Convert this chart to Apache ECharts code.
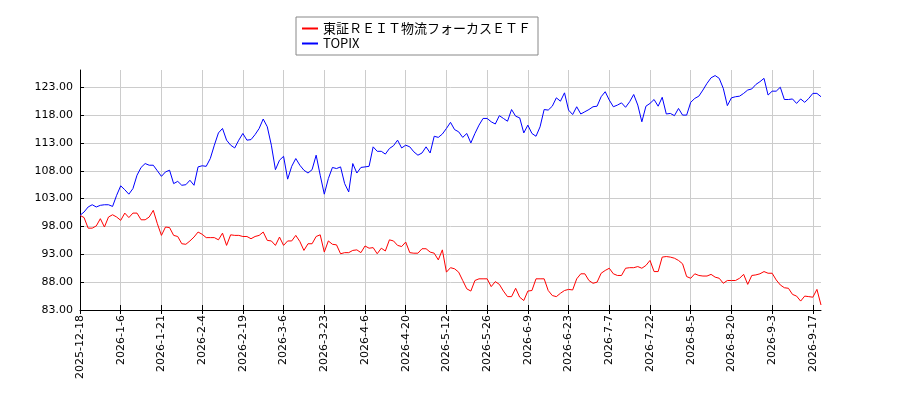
<!DOCTYPE html>
<html>
<head>
<meta charset="utf-8">
<script src="https://cdn.jsdelivr.net/npm/echarts@6/dist/echarts.min.js"></script>
<style>
  html, body { margin: 0; padding: 0; background: #fff; }
  #chart { width: 900px; height: 400px; }
</style>
</head>
<body>
<div id="chart"></div>
<script>
// 日付（営業日）
const dates = [
  "2025-12-18", "2025-12-19", "2025-12-22", "2025-12-23", "2025-12-24", "2025-12-25", "2025-12-26", "2025-12-29", "2025-12-30", "2026-1-5",
  "2026-1-6", "2026-1-7", "2026-1-8", "2026-1-9", "2026-1-13", "2026-1-14", "2026-1-15", "2026-1-16", "2026-1-19", "2026-1-20",
  "2026-1-21", "2026-1-22", "2026-1-23", "2026-1-26", "2026-1-27", "2026-1-28", "2026-1-29", "2026-1-30", "2026-2-2", "2026-2-3",
  "2026-2-4", "2026-2-5", "2026-2-6", "2026-2-9", "2026-2-10", "2026-2-12", "2026-2-13", "2026-2-16", "2026-2-17", "2026-2-18",
  "2026-2-19", "2026-2-20", "2026-2-24", "2026-2-25", "2026-2-26", "2026-2-27", "2026-3-2", "2026-3-3", "2026-3-4", "2026-3-5",
  "2026-3-6", "2026-3-9", "2026-3-10", "2026-3-11", "2026-3-12", "2026-3-13", "2026-3-16", "2026-3-17", "2026-3-18", "2026-3-19",
  "2026-3-23", "2026-3-24", "2026-3-25", "2026-3-26", "2026-3-27", "2026-3-30", "2026-3-31", "2026-4-1", "2026-4-2", "2026-4-3",
  "2026-4-6", "2026-4-7", "2026-4-8", "2026-4-9", "2026-4-10", "2026-4-13", "2026-4-14", "2026-4-15", "2026-4-16", "2026-4-17",
  "2026-4-20", "2026-4-21", "2026-4-22", "2026-4-23", "2026-4-24", "2026-4-27", "2026-4-28", "2026-5-7", "2026-5-8", "2026-5-11",
  "2026-5-12", "2026-5-13", "2026-5-14", "2026-5-15", "2026-5-18", "2026-5-19", "2026-5-20", "2026-5-21", "2026-5-22", "2026-5-25",
  "2026-5-26", "2026-5-27", "2026-5-28", "2026-5-29", "2026-6-1", "2026-6-2", "2026-6-3", "2026-6-4", "2026-6-5", "2026-6-8",
  "2026-6-9", "2026-6-10", "2026-6-11", "2026-6-12", "2026-6-15", "2026-6-16", "2026-6-17", "2026-6-18", "2026-6-19", "2026-6-22",
  "2026-6-23", "2026-6-24", "2026-6-25", "2026-6-26", "2026-6-29", "2026-6-30", "2026-7-1", "2026-7-2", "2026-7-3", "2026-7-6",
  "2026-7-7", "2026-7-8", "2026-7-9", "2026-7-10", "2026-7-13", "2026-7-14", "2026-7-15", "2026-7-16", "2026-7-17", "2026-7-21",
  "2026-7-22", "2026-7-23", "2026-7-24", "2026-7-27", "2026-7-28", "2026-7-29", "2026-7-30", "2026-7-31", "2026-8-3", "2026-8-4",
  "2026-8-5", "2026-8-6", "2026-8-7", "2026-8-10", "2026-8-12", "2026-8-13", "2026-8-14", "2026-8-17", "2026-8-18", "2026-8-19",
  "2026-8-20", "2026-8-21", "2026-8-24", "2026-8-25", "2026-8-26", "2026-8-27", "2026-8-28", "2026-8-31", "2026-9-1", "2026-9-2",
  "2026-9-3", "2026-9-4", "2026-9-7", "2026-9-8", "2026-9-9", "2026-9-10", "2026-9-11", "2026-9-14", "2026-9-15", "2026-9-16",
  "2026-9-17", "2026-9-18", "2026-9-24"
];

// 東証ＲＥＩＴ物流フォーカスＥＴＦ（100基準）
const reitValues = [
  100.0, 99.6, 97.7, 97.7, 98.1, 99.4, 97.9, 99.7, 100.1, 99.7,
  99.1, 100.4, 99.6, 100.4, 100.4, 99.2, 99.2, 99.7, 100.9, 98.5,
  96.4, 97.9, 97.8, 96.4, 96.2, 94.9, 94.8, 95.4, 96.1, 97.0,
  96.6, 96.0, 96.0, 96.0, 95.6, 96.8, 94.6, 96.5, 96.4, 96.4,
  96.2, 96.2, 95.8, 96.2, 96.4, 97.0, 95.5, 95.4, 94.6, 96.1,
  94.6, 95.4, 95.4, 96.4, 95.3, 93.7, 94.9, 94.9, 96.2, 96.5,
  93.4, 95.4, 94.8, 94.7, 93.1, 93.3, 93.3, 93.7, 93.8, 93.3,
  94.5, 94.1, 94.2, 93.1, 94.1, 93.6, 95.6, 95.4, 94.6, 94.4,
  95.2, 93.3, 93.2, 93.2, 94.0, 94.0, 93.4, 93.2, 92.0, 93.8,
  89.8, 90.6, 90.4, 89.8, 88.3, 86.8, 86.4, 88.3, 88.6, 88.6,
  88.6, 87.2, 88.1, 87.6, 86.4, 85.4, 85.4, 86.9, 85.3, 84.7,
  86.4, 86.5, 88.6, 88.6, 88.6, 86.5, 85.6, 85.4, 86.0, 86.5,
  86.7, 86.6, 88.6, 89.5, 89.5, 88.3, 87.8, 88.0, 89.6, 90.1,
  90.5, 89.5, 89.2, 89.2, 90.5, 90.6, 90.6, 90.8, 90.5, 91.0,
  91.9, 89.9, 89.9, 92.5, 92.6, 92.5, 92.3, 91.9, 91.3, 89.0,
  88.7, 89.5, 89.2, 89.1, 89.1, 89.4, 88.9, 88.7, 87.8, 88.3,
  88.3, 88.3, 88.7, 89.4, 87.6, 89.2, 89.3, 89.5, 89.9, 89.6,
  89.6, 88.4, 87.5, 87.0, 86.9, 85.8, 85.5, 84.6, 85.5, 85.4,
  85.3, 86.7, 83.9
];

// TOPIX（100基準）
const topixValues = [
  100.0, 100.6, 101.5, 101.9, 101.5, 101.8, 101.9, 101.9, 101.6, 103.6,
  105.3, 104.6, 103.8, 104.8, 107.2, 108.6, 109.3, 109.0, 109.0, 108.0,
  107.0, 107.8, 108.1, 105.7, 106.1, 105.4, 105.5, 106.3, 105.4, 108.7,
  108.9, 108.8, 110.2, 112.6, 114.8, 115.6, 113.5, 112.6, 112.1, 113.5,
  114.7, 113.5, 113.6, 114.5, 115.6, 117.3, 115.9, 112.6, 108.2, 109.9,
  110.6, 106.5, 108.8, 110.2, 109.0, 108.1, 107.6, 108.2, 110.8, 107.2,
  103.8, 106.6, 108.6, 108.4, 108.7, 105.7, 104.2, 109.3, 107.6, 108.6,
  108.7, 108.8, 112.3, 111.5, 111.5, 111.0, 112.0, 112.5, 113.5, 112.1,
  112.6, 112.3, 111.4, 110.8, 111.2, 112.3, 111.2, 114.2, 114.0, 114.6,
  115.6, 116.7, 115.4, 115.0, 114.0, 114.7, 113.0, 114.7, 116.2, 117.4,
  117.4, 116.8, 116.4, 117.9, 117.4, 116.9, 119.0, 117.8, 117.5, 114.8,
  116.2, 114.7, 114.2, 115.9, 119.0, 118.9, 119.6, 121.1, 120.5, 122.0,
  118.9, 118.1, 119.5, 118.2, 118.6, 119.0, 119.5, 119.6, 121.3, 122.2,
  120.7, 119.5, 119.8, 120.2, 119.4, 120.4, 121.7, 119.8, 116.8, 119.6,
  120.1, 120.8, 119.6, 121.2, 118.2, 118.3, 117.9, 119.2, 118.0, 118.0,
  120.3, 121.0, 121.4, 122.5, 123.7, 124.7, 125.1, 124.6, 122.8, 119.7,
  121.1, 121.3, 121.4, 121.9, 122.5, 122.7, 123.5, 124.0, 124.6, 121.6,
  122.3, 122.3, 123.0, 120.8, 120.8, 120.9, 120.1, 120.9, 120.3, 121.0,
  121.9, 121.9, 121.3
];

const seriesNames = ["東証ＲＥＩＴ物流フォーカスＥＴＦ", "TOPIX"];

const chart = echarts.init(document.getElementById("chart"), null, { renderer: "canvas" });

const labelFont = "DejaVu Sans";

const option = {
  animation: false,
  backgroundColor: "#fff",
  legend: {
    orient: "vertical",
    left: 296,
    top: 17,
    padding: [5, 7, 5, 6],
    itemGap: 2,
    itemWidth: 16,
    itemHeight: 2,
    icon: "rect",
    borderColor: "#888",
    borderWidth: 1,
    backgroundColor: "#fff",
    textStyle: { fontFamily: "Noto Sans CJK JP", fontSize: 13, color: "#000" },
    data: seriesNames,
  },
  grid: { left: 80, right: 79, top: 70, bottom: 90 },
  xAxis: [
    {
      type: "category",
      data: dates,
      boundaryGap: false,
      axisLine: { lineStyle: { color: "#000", width: 1 } },
      axisTick: { interval: 9, length: 4, lineStyle: { color: "#000" } },
      axisLabel: {
        interval: 9,
        rotate: 90,
        margin: 5,
        fontFamily: labelFont,
        fontSize: 11,
        color: "#000",
      },
      splitLine: { show: true, interval: 9, lineStyle: { color: "#ccc", width: 1 } },
    },
    {
      type: "category",
      data: dates,
      boundaryGap: false,
      position: "bottom",
      axisLine: { show: false },
      axisTick: { interval: 9, inside: true, length: 5, lineStyle: { color: "#000" } },
      axisLabel: { show: false },
      splitLine: { show: false },
    },
  ],
  yAxis: {
    type: "value",
    min: 83,
    max: 126.1,
    interval: 5,
    axisLine: { show: true, lineStyle: { color: "#000", width: 1 } },
    axisTick: { show: true, inside: true, length: 4, lineStyle: { color: "#000" } },
    axisLabel: {
      showMaxLabel: false,
      margin: 7,
      fontFamily: labelFont,
      fontSize: 11,
      color: "#000",
      formatter: (v) => v.toFixed(2),
    },
    splitLine: { show: true, showMaxLine: false, lineStyle: { color: "#ccc", width: 1 } },
  },
  series: [
    {
      name: seriesNames[0],
      type: "line",
      xAxisIndex: 0,
      data: reitValues,
      showSymbol: false,
      color: "#ff0000",
      lineStyle: { color: "#ff0000", width: 1 },
    },
    {
      name: seriesNames[1],
      type: "line",
      xAxisIndex: 0,
      data: topixValues,
      showSymbol: false,
      color: "#0000ff",
      lineStyle: { color: "#0000ff", width: 1 },
    },
  ],
};

chart.setOption(option);
</script>
</body>
</html>
